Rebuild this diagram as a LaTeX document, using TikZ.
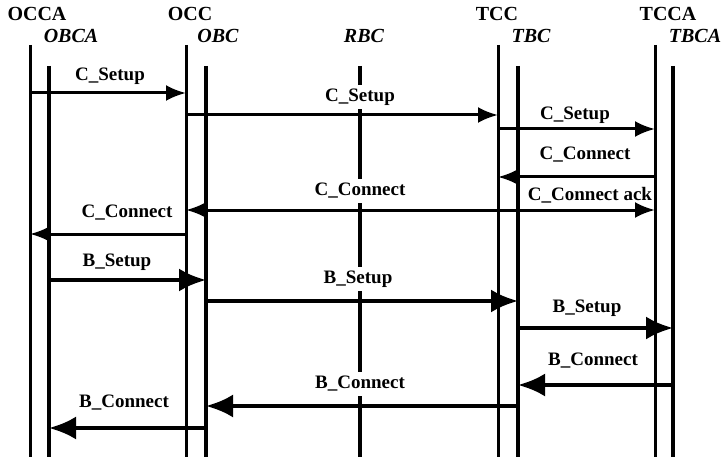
\documentclass[tikz,border=0pt]{standalone}
\usepackage{fontspec}
\setmainfont{Liberation Serif}
\usetikzlibrary{arrows.meta}

\begin{document}
\begin{tikzpicture}[x=1pt, y=-1pt,
  hdr/.style={font=\fontsize{20}{22}\selectfont\bfseries, inner sep=0pt},
  bhdr/.style={font=\fontsize{20}{22}\selectfont\bfseries\itshape, inner sep=0pt},
  lbl/.style={font=\fontsize{19}{21}\selectfont\bfseries, inner sep=1pt},
  gaplbl/.style={lbl, fill=white, inner sep=4pt},
  cline/.style={line width=3pt},
  bline/.style={line width=4.6pt},
  rline/.style={line width=3.6pt},
  cmsg/.style={line width=3pt, -{Latex[length=20pt,width=16pt]}},
  bmsg/.style={line width=3.8pt, -{Latex[length=27pt,width=23pt]}}]

\useasboundingbox (0,0) rectangle (725,457);

\node[hdr] (occaH) at (37,14) {OCCA};
\node[bhdr] (obcaH) at (71,36) {OBCA};
\node[hdr] (occH) at (190,14) {OCC};
\node[bhdr] (obcH) at (218,36) {OBC};
\node[bhdr] (rbcH) at (364,36) {RBC};
\node[hdr] (tccH) at (497,14) {TCC};
\node[bhdr] (tbcH) at (531,36) {TBC};
\node[hdr] (tccaH) at (668,14) {TCCA};
\node[bhdr] (tbcaH) at (695,36) {TBCA};

\coordinate (occa) at (30,45);
\coordinate (obca) at (49,66);
\coordinate (occ) at (186,45);
\coordinate (obc) at (206,66);
\coordinate (rbc) at (360,66);
\coordinate (tcc) at (498,45);
\coordinate (tbc) at (518,66);
\coordinate (tcca) at (655,45);
\coordinate (tbca) at (673,66);

\draw[cline] (occa) -- (occa |- 0,457);
\draw[bline] (obca) -- (obca |- 0,457);
\draw[cline] (occ) -- (occ |- 0,457);
\draw[bline] (obc) -- (obc |- 0,457);
\draw[rline] (rbc) -- (rbc |- 0,457);
\draw[cline] (tcc) -- (tcc |- 0,457);
\draw[bline] (tbc) -- (tbc |- 0,457);
\draw[cline] (tcca) -- (tcca |- 0,457);
\draw[bline] (tbca) -- (tbca |- 0,457);

\draw[cmsg] (occa |- 0,93) -- (occ |- 0,93);
\draw[cmsg] (occ |- 0,115) -- (tcc |- 0,115);
\draw[cmsg] (tcc |- 0,129) -- (tcca |- 0,129);
\draw[cmsg] (tcca |- 0,177) -- (tcc |- 0,177);
\draw[cmsg] (tcc |- 0,210) -- (occ |- 0,210);
\draw[cmsg] (tcc |- 0,210) -- (tcca |- 0,210);
\draw[cmsg] (occ |- 0,234) -- (occa |- 0,234);
\draw[bmsg] (obca |- 0,280) -- (obc |- 0,280);
\draw[bmsg] (obc |- 0,301) -- (tbc |- 0,301);
\draw[bmsg] (tbc |- 0,328) -- (tbca |- 0,328);
\draw[bmsg] (tbca |- 0,385) -- (tbc |- 0,385);
\draw[bmsg] (tbc |- 0,406) -- (obc |- 0,406);
\draw[bmsg] (obc |- 0,428) -- (obca |- 0,428);

\node[lbl] (m1) at (110,76) {C\_Setup};
\node[gaplbl] (m2) at (360,97) {C\_Setup};
\node[lbl] (m3) at (575,115) {C\_Setup};
\node[lbl] (m4) at (585,155) {C\_Connect};
\node[gaplbl] (m5) at (360,191) {C\_Connect};
\node[lbl] (m6) at (590,195) {C\_Connect ack};
\node[lbl] (m7) at (127,213) {C\_Connect};
\node[lbl] (m8) at (117,262) {B\_Setup};
\node[gaplbl] (m9) at (358,279) {B\_Setup};
\node[lbl] (m10) at (587,308) {B\_Setup};
\node[lbl] (m11) at (593,361) {B\_Connect};
\node[gaplbl] (m12) at (360,384) {B\_Connect};
\node[lbl] (m13) at (124,403) {B\_Connect};

\end{tikzpicture}
\end{document}
